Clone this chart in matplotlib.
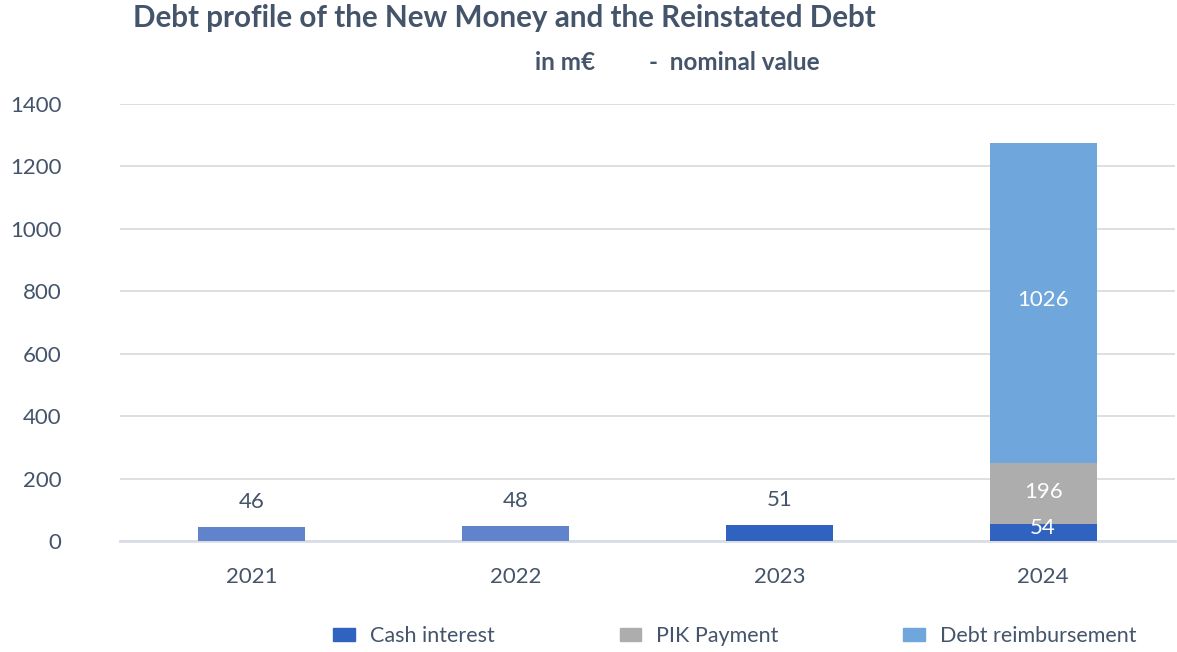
import matplotlib.pyplot as plt
import numpy as np

years = ["2021", "2022", "2023", "2024"]
cash_interest = [46, 48, 51, 54]
pik_payment = [0, 0, 0, 196]
debt_reimb = [0, 0, 0, 1026]
yticks = [0, 200, 400, 600, 800, 1000, 1200, 1400]

slate = "#44546A"
c_cash_light = "#6183CB"
c_cash = "#3063BF"
c_pik = "#ADADAD"
c_debt = "#6FA6DC"

plt.rcParams['font.family'] = ['Lato', 'DejaVu Sans']

fig = plt.figure(figsize=(11.77, 6.52), dpi=100)
ax = fig.add_axes([120 / 1177, 1 - 541 / 652, 1055 / 1177, 437 / 652])

x = np.arange(len(years))
w = 0.405
# first two years drawn in a lighter shade, as in the source
cash_cols = [c_cash_light, c_cash_light, c_cash, c_cash]
ax.bar(x, cash_interest, w, color=cash_cols, zorder=3)
ax.bar(x, pik_payment, w, bottom=cash_interest, color=c_pik, zorder=3)
bottom2 = np.array(cash_interest) + np.array(pik_payment)
ax.bar(x, debt_reimb, w, bottom=bottom2, color=c_debt, zorder=3)

# value labels
for i in range(len(years)):
    if pik_payment[i] == 0 and debt_reimb[i] == 0:
        ax.text(x[i], cash_interest[i] + 80, str(cash_interest[i]), ha='center',
                va='center', fontsize=16, color=slate)
    else:
        ax.text(x[i], cash_interest[i] / 2 + 14, str(cash_interest[i]), ha='center',
                va='center', fontsize=16, color='white', zorder=4)
        ax.text(x[i], cash_interest[i] + pik_payment[i] / 2 + 5, str(pik_payment[i]),
                ha='center', va='center', fontsize=16, color='white', zorder=4)
        ax.text(x[i], bottom2[i] + debt_reimb[i] / 2 + 8, str(debt_reimb[i]),
                ha='center', va='center', fontsize=16, color='white', zorder=4)

ax.set_xlim(-0.5, 3.5)
ax.set_ylim(0, 1400)
ax.set_yticks(yticks)
ax.set_yticklabels([str(v) for v in yticks])
ax.set_xticks(x)
ax.set_xticklabels(years)
ax.tick_params(axis='both', length=0, labelsize=16, labelcolor=slate)
ax.tick_params(axis='y', pad=42)
ax.tick_params(axis='x', pad=19)
for lab in ax.get_yticklabels():
    lab.set_horizontalalignment('right')

ax.grid(axis='y', color='#D9D9D9', linewidth=1.2, zorder=0)
for s in ['top', 'right', 'left']:
    ax.spines[s].set_visible(False)
ax.spines['bottom'].set_color('#D9DDE6')
ax.spines['bottom'].set_linewidth(2)

fig.text(133 / 1177, 1 - 18 / 652, "Debt profile of the New Money and the Reinstated Debt",
         fontsize=21.3, fontweight='bold', color=slate, ha='left', va='center')
fig.text(535 / 1177, 1 - 63 / 652, "in m\u20ac", fontsize=17.5, fontweight='bold',
         color=slate, ha='left', va='center')
fig.text(649 / 1177, 1 - 63 / 652, "-  nominal value", fontsize=17.5, fontweight='bold',
         color=slate, ha='left', va='center')

# legend
handles = [plt.Rectangle((0, 0), 1, 1, color=c_cash),
           plt.Rectangle((0, 0), 1, 1, color=c_pik),
           plt.Rectangle((0, 0), 1, 1, color=c_debt)]
leg = fig.legend(handles, ["Cash interest", "PIK Payment", "Debt reimbursement"],
                 loc='center', bbox_to_anchor=(735 / 1177, 1 - 636 / 652), ncol=3,
                 frameon=False, fontsize=15.5, handlelength=1.0, handleheight=0.6,
                 columnspacing=5.8, handletextpad=0.7)
for t in leg.get_texts():
    t.set_color(slate)

fig.savefig("out.png", dpi=100)
